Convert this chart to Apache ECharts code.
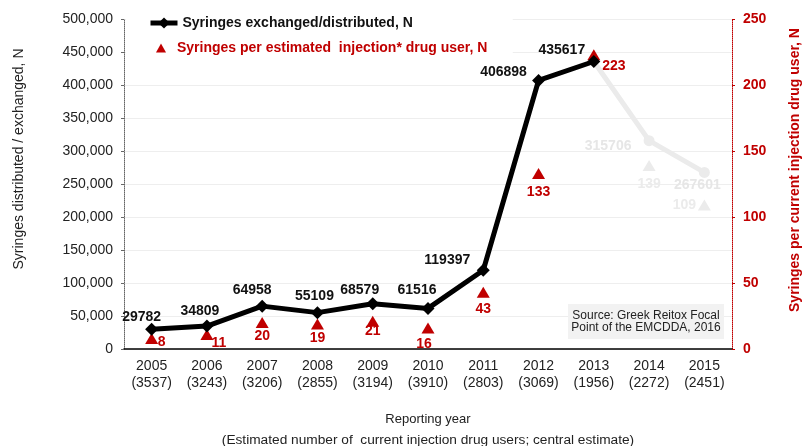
<!DOCTYPE html>
<html>
<head>
<meta charset="utf-8">
<script src="https://cdn.jsdelivr.net/npm/echarts@6/dist/echarts.min.js"></script>
<style>
html,body{margin:0;padding:0;background:#fff}
#main{width:802px;height:446px}
</style>
</head>
<body>
<div id="main"></div>
<script>
// reporting years and estimated number of injection drug users (central estimate)
var years = ['2005', '2006', '2007', '2008', '2009', '2010', '2011', '2012', '2013', '2014', '2015'];
var users = ['3537', '3243', '3206', '2855', '3194', '3910', '2803', '3069', '1956', '2272', '2451'];
var syringes = [29782, 34809, 64958, 55109, 68579, 61516, 119397, 406898, 435617, 315706, 267601];
var perUser = [8, 11, 20, 19, 21, 16, 43, 133, 223, 139, 109];
var leftTicks = [0, 500000, 50000];
var rightTicks = [0, 250, 50];

// label offsets (px) from each mark
var lineLabelPos = [[-10,-12],[-7,-15],[-10,-16],[-3,-16],[-13,-14],[-11,-18],[-36,-10],[-35,-8],[-32,-11],[-41,6],[-7,13]];
var triLabelPos = [[10,4],[12,9],[0,14],[0,14],[0,10],[-4,16],[0,17],[0,19],[20,12],[0,19],[-20,0]];

var FONT = "'Liberation Sans', Arial, sans-serif";
var RED = '#c00000';
var GREY = '#ebebeb';
var lastReported = 8; // 2013, later years are shown greyed out
var lineName = 'Syringes exchanged/distributed, N';
var triName = 'Syringes per estimated  injection* drug user, N';

var cats = years.map(function (y, i) { return y + '\n(' + users[i] + ')'; });

var blackData = syringes.map(function (v, i) {
    if (i > lastReported) return '-';
    return {value: v, label: {offset: lineLabelPos[i]}};
});
var greyData = syringes.map(function (v, i) {
    if (i < lastReported) return '-';
    if (i == lastReported) return {value: v, symbol: 'none', label: {show: false}};
    return {value: v, label: {offset: lineLabelPos[i]}};
});
var triData = perUser.map(function (v, i) {
    var c = i > lastReported ? GREY : RED;
    return {value: [i, v], itemStyle: {color: c, opacity: 1}, label: {color: c, offset: triLabelPos[i]}};
});

var myChart = echarts.init(document.getElementById('main'));

var option = {
    animation: false,
    textStyle: {fontFamily: FONT},
    grid: {left: 124, right: 70, top: 19, bottom: 97},
    legend: [
        {
            orient: 'vertical',
            left: 126, top: 10,
            padding: [6, 100, 29, 22],
            backgroundColor: '#fff',
            itemWidth: 27, itemHeight: 14,
            lineStyle: {width: 5},
            textStyle: {fontFamily: FONT, fontSize: 14, fontWeight: 'bold', color: '#111'},
            data: [lineName]
        },
        {
            left: 156, top: 41,
            padding: 0,
            itemWidth: 10, itemHeight: 9,
            textStyle: {fontFamily: FONT, fontSize: 14, fontWeight: 'bold', color: RED, padding: [0, 0, 0, 6]},
            data: [{name: triName, icon: 'triangle', itemStyle: {color: RED, opacity: 1}}]
        }
    ],
    xAxis: {
        type: 'category',
        data: cats,
        axisLine: {lineStyle: {color: '#000', width: 1.5}},
        axisTick: {length: 5, lineStyle: {color: '#000'}},
        axisLabel: {color: '#222', fontSize: 14, lineHeight: 17, margin: 9, fontFamily: FONT}
    },
    yAxis: [
        {
            type: 'value',
            min: leftTicks[0], max: leftTicks[1], interval: leftTicks[2],
            axisLine: {show: true, lineStyle: {color: '#666', type: [1, 1]}},
            axisTick: {show: true, length: 3, lineStyle: {color: '#666'}},
            axisLabel: {
                color: '#222', fontSize: 14, margin: 11, fontFamily: FONT,
                formatter: function (v) { return v.toLocaleString('en-US'); }
            },
            splitLine: {lineStyle: {color: '#eeeeee'}}
        },
        {
            type: 'value',
            min: rightTicks[0], max: rightTicks[1], interval: rightTicks[2],
            position: 'right',
            axisLine: {show: true, lineStyle: {color: RED, type: [1, 1]}},
            axisTick: {show: true, length: 3, lineStyle: {color: RED}},
            axisLabel: {color: RED, fontSize: 14, fontWeight: 'bold', margin: 11, fontFamily: FONT},
            splitLine: {show: false}
        }
    ],
    graphic: [
        {
            type: 'text', x: 19, y: 159, rotation: Math.PI / 2,
            style: {text: 'Syringes distributed / exchanged, N', fill: '#222', font: '14px ' + FONT, align: 'center', verticalAlign: 'middle'}
        },
        {
            type: 'text', x: 795, y: 170, rotation: Math.PI / 2,
            style: {text: 'Syringes per current injection drug user, N', fill: RED, font: 'bold 14px ' + FONT, align: 'center', verticalAlign: 'middle'}
        },
        {
            type: 'text', x: 428, y: 419,
            style: {text: 'Reporting year', fill: '#222', font: '13px ' + FONT, align: 'center', verticalAlign: 'middle'}
        },
        {
            type: 'text', x: 428, y: 440,
            style: {text: '(Estimated number of  current injection drug users; central estimate)', fill: '#222', font: '13.7px ' + FONT, align: 'center', verticalAlign: 'middle'}
        },
        {
            type: 'rect', z: 100, shape: {x: 568, y: 304, width: 156, height: 35},
            style: {fill: '#f2f2f2'}
        },
        {
            type: 'text', z: 101, x: 646, y: 316,
            style: {text: 'Source: Greek Reitox Focal', fill: '#222', fontSize: 12, fontFamily: FONT, align: 'center', verticalAlign: 'middle'}
        },
        {
            type: 'text', z: 101, x: 646, y: 328,
            style: {text: 'Point of the EMCDDA, 2016', fill: '#222', fontSize: 12, fontFamily: FONT, align: 'center', verticalAlign: 'middle'}
        }
    ],
    series: [
        {
            name: 'greyed',
            type: 'line',
            data: greyData,
            symbol: 'circle', symbolSize: 11,
            lineStyle: {color: GREY, width: 5},
            itemStyle: {color: GREY},
            label: {show: true, position: 'inside', color: '#e6e6e6', fontSize: 14, fontWeight: 'bold', fontFamily: FONT}
        },
        {
            name: lineName,
            type: 'line',
            data: blackData,
            symbol: 'diamond', symbolSize: 13,
            lineStyle: {color: '#000', width: 5},
            itemStyle: {color: '#000'},
            label: {show: true, position: 'inside', color: '#111', fontSize: 14, fontWeight: 'bold', fontFamily: FONT}
        },
        {
            name: triName,
            type: 'scatter',
            yAxisIndex: 1,
            symbol: 'triangle', symbolSize: [13, 11],
            itemStyle: {color: RED, opacity: 1},
            data: triData,
            label: {show: true, position: 'inside', fontSize: 14, fontWeight: 'bold', fontFamily: FONT}
        }
    ]
};
myChart.setOption(option);
</script>
</body>
</html>
